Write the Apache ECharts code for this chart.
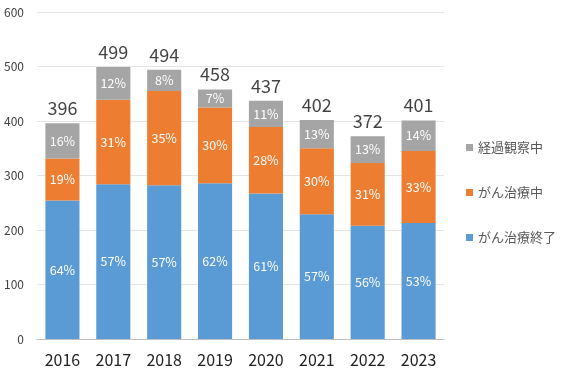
<!DOCTYPE html>
<html><head><meta charset="utf-8">
<script src="https://cdn.jsdelivr.net/npm/echarts@6/dist/echarts.min.js"></script>
<style>html,body{margin:0;padding:0;background:#fff}#c{width:567px;height:380px}</style>
</head><body><div id="c"></div>
<script>
var years = ['2016','2017','2018','2019','2020','2021','2022','2023'];
var finished = [254, 284, 282, 286, 267, 229, 208, 213];   // がん治療終了
var treating = [77, 155, 173, 139, 122, 121, 115, 132];    // がん治療中
var observing = [65, 60, 39, 33, 48, 52, 49, 56];          // 経過観察中
var totals = [396, 499, 494, 458, 437, 402, 372, 401];
var yTicks = [0, 100, 200, 300, 400, 500, 600];

var font = '"Noto Sans CJK JP", "Noto Sans", sans-serif';
function pctLabel(arr) {
  return {
    show: true, position: 'inside', color: '#fff', fontSize: 12.5, fontFamily: font,
    formatter: function (p) { return Math.round(arr[p.dataIndex] / totals[p.dataIndex] * 100) + '%'; }
  };
}
var chart = echarts.init(document.getElementById('c'));
chart.setOption({
  animation: false,
  grid: { left: 37, right: 123, top: 12, bottom: 41 },
  legend: {
    data: ['経過観察中', 'がん治療中', 'がん治療終了'],
    orient: 'vertical', left: 461, top: 136, itemWidth: 7, itemHeight: 7, itemGap: 32,
    icon: 'rect',
    textStyle: { fontSize: 13, color: '#595959', fontFamily: font }
  },
  xAxis: {
    type: 'category', data: years,
    axisLine: { lineStyle: { color: '#BFBFBF' } },
    axisTick: { show: false },
    axisLabel: { fontSize: 16, color: '#222', margin: 13, fontFamily: font }
  },
  yAxis: {
    type: 'value', min: yTicks[0], max: yTicks[yTicks.length - 1], interval: 100,
    axisLine: { show: false }, axisTick: { show: false },
    axisLabel: { fontSize: 12, color: '#404040', margin: 13, fontFamily: font },
    splitLine: { lineStyle: { color: '#E4E4E4' } }
  },
  series: [
    { name: 'がん治療終了', type: 'bar', stack: 's', data: finished, barWidth: '67%',
      itemStyle: { color: '#5B9BD5' }, label: pctLabel(finished) },
    { name: 'がん治療中', type: 'bar', stack: 's', data: treating,
      itemStyle: { color: '#ED7D31' }, label: pctLabel(treating) },
    { name: '経過観察中', type: 'bar', stack: 's', data: observing,
      itemStyle: { color: '#A5A5A5' }, label: pctLabel(observing) },
    { name: 'total', type: 'scatter', data: totals, symbol: 'rect', symbolSize: 2, silent: true,
      itemStyle: { color: 'rgba(255,255,255,0)' }, z: 10,
      label: { show: true, position: 'top', distance: 5, fontSize: 18, color: '#111', fontFamily: font } }
  ]
});
</script></body></html>
